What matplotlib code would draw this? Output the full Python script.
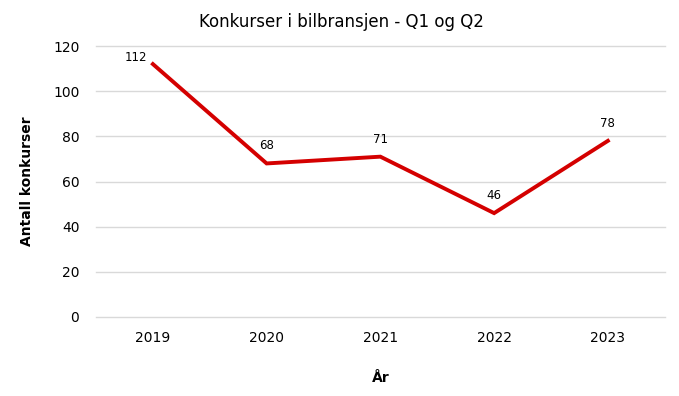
import matplotlib
matplotlib.use("Agg")
import matplotlib.pyplot as plt

years = ["2019", "2020", "2021", "2022", "2023"]
counts = [112, 68, 71, 46, 78]
yticks = [0, 20, 40, 60, 80, 100, 120]

plt.rcParams['font.family'] = ['DejaVu Sans']
fig = plt.figure(figsize=(6.79, 3.96), dpi=100)
ax = fig.add_axes([0.1414, 0.1995, 0.8376, 0.6843])

x = list(range(len(years)))
ax.plot(x, counts, color="#D40000", linewidth=2.8, solid_joinstyle="miter", zorder=3)
for xi, v in zip(x, counts):
    if xi == 0:
        ax.annotate(str(v), (xi, v), xytext=(-12, 0), textcoords="offset points",
                    ha="center", va="bottom", fontsize=8.5)
    else:
        ax.annotate(str(v), (xi, v), xytext=(0, 8), textcoords="offset points",
                    ha="center", va="bottom", fontsize=8.5)

ax.set_xlim(-0.5, 4.5)
ax.set_ylim(0, 120)
ax.set_yticks(yticks)
ax.set_xticks(x)
ax.set_xticklabels(years)
ax.grid(axis="y", color="#D9D9D9", linewidth=1)
for gl in ax.get_ygridlines():
    gl.set_clip_on(False)
ax.set_axisbelow(True)
for s in ax.spines.values():
    s.set_visible(False)
ax.tick_params(length=0, labelsize=10)
ax.tick_params(axis="x", pad=10)
ax.tick_params(axis="y", pad=12)
fig.text(0.503, 0.945, "Konkurser i bilbransjen - Q1 og Q2", fontsize=12, ha="center", va="center")
ax.set_xlabel("År", fontsize=10, fontweight="bold", labelpad=19)
ax.set_ylabel("Antall konkurser", fontsize=10, fontweight="bold", labelpad=14)
fig.savefig("out.png", dpi=100)
